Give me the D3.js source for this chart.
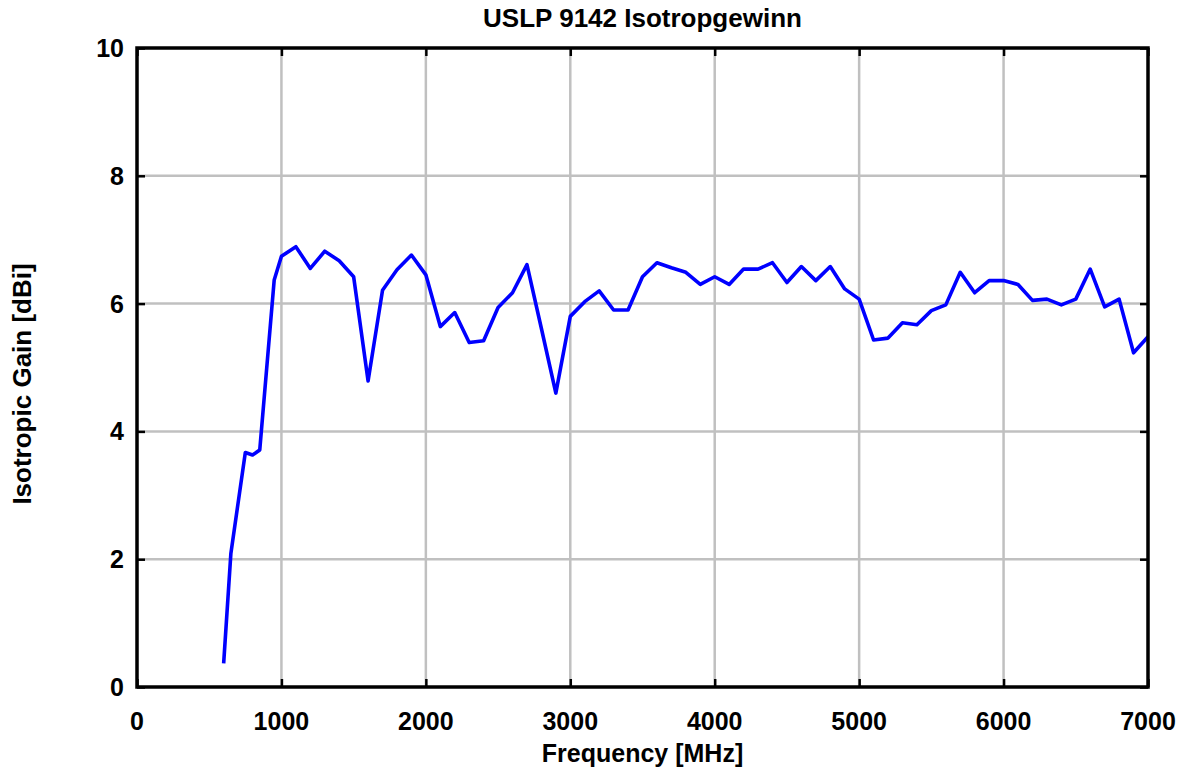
<!DOCTYPE html>
<html>
<head>
<meta charset="utf-8">
<script src="https://cdn.jsdelivr.net/npm/d3@7"></script>
<style>
  body { margin: 0; background: #fff; }
  text { font-family: "Liberation Sans", Arial, sans-serif; font-weight: bold; fill: #000; }
</style>
</head>
<body>
<div id="chart"></div>
<script>
var freqs = [600, 650, 750, 800, 850, 950, 1000, 1100, 1200, 1300, 1400, 1500, 1600, 1700, 1800, 1900,
  2000, 2100, 2200, 2300, 2400, 2500, 2600, 2700, 2800, 2900, 3000, 3100, 3200, 3300, 3400, 3500,
  3600, 3700, 3800, 3900, 4000, 4100, 4200, 4300, 4400, 4500, 4600, 4700, 4800, 4900, 5000, 5100,
  5200, 5300, 5400, 5500, 5600, 5700, 5800, 5900, 6000, 6100, 6200, 6300, 6400, 6500, 6600, 6700,
  6800, 6900, 7000];
var gain = [0.37, 2.09, 3.67, 3.63, 3.71, 6.37, 6.74, 6.89, 6.55, 6.82, 6.67, 6.42, 4.79, 6.21, 6.53, 6.76,
  6.45, 5.64, 5.86, 5.39, 5.42, 5.94, 6.17, 6.61, 5.61, 4.60, 5.80, 6.03, 6.20, 5.90, 5.90, 6.42,
  6.64, 6.56, 6.49, 6.30, 6.42, 6.30, 6.54, 6.54, 6.64, 6.33, 6.58, 6.36, 6.58, 6.23, 6.07, 5.43,
  5.46, 5.70, 5.67, 5.89, 5.98, 6.49, 6.17, 6.36, 6.36, 6.30, 6.05, 6.07, 5.98, 6.07, 6.54, 5.95,
  6.07, 5.23, 5.48];
var xTicks = [0, 1000, 2000, 3000, 4000, 5000, 6000, 7000];
var yTicks = [0, 2, 4, 6, 8, 10];

var data = freqs.map(function (f, i) { return { f: f, g: gain[i] }; });

var margin = { top: 48, right: 39, bottom: 84, left: 137 },
    W = 1187, H = 771,
    width = W - margin.left - margin.right,
    height = H - margin.top - margin.bottom;

var svg = d3.select("#chart").append("svg")
  .attr("width", W).attr("height", H);

var g = svg.append("g")
  .attr("transform", "translate(" + margin.left + "," + margin.top + ")");

var x = d3.scaleLinear().domain([0, 7000]).range([0, width]);
var y = d3.scaleLinear().domain([0, 10]).range([height, 0]);

// grid
g.selectAll(".gx").data(xTicks.slice(1, -1)).enter().append("line")
  .attr("x1", function (d) { return x(d); }).attr("x2", function (d) { return x(d); })
  .attr("y1", 0).attr("y2", height)
  .attr("stroke", "#c0c0c0").attr("stroke-width", 2.5);
g.selectAll(".gy").data(yTicks.slice(1, -1)).enter().append("line")
  .attr("y1", function (d) { return y(d); }).attr("y2", function (d) { return y(d); })
  .attr("x1", 0).attr("x2", width)
  .attr("stroke", "#c0c0c0").attr("stroke-width", 2.5);

// inward ticks on all four sides
function ticks(axis, tr) {
  var a = g.append("g").attr("transform", tr).call(axis.tickSize(-8).tickFormat(""));
  a.select(".domain").remove();
  a.selectAll("line").attr("stroke", "#000").attr("stroke-width", 2.5);
}
ticks(d3.axisBottom(x).tickValues(xTicks), "translate(0," + height + ")");
ticks(d3.axisTop(x).tickValues(xTicks), "translate(0,0)");
ticks(d3.axisLeft(y).tickValues(yTicks), "translate(0,0)");
ticks(d3.axisRight(y).tickValues(yTicks), "translate(" + width + ",0)");

// tick labels
g.selectAll(".lx").data(xTicks).enter().append("text")
  .attr("x", function (d) { return x(d); }).attr("y", height + 43)
  .attr("text-anchor", "middle").attr("font-size", 25)
  .text(function (d) { return d; });
g.selectAll(".ly").data(yTicks).enter().append("text")
  .attr("x", -13).attr("y", function (d) { return y(d); }).attr("dy", "0.36em")
  .attr("text-anchor", "end").attr("font-size", 25)
  .text(function (d) { return d; });

// curve
g.append("path").datum(data)
  .attr("fill", "none").attr("stroke", "#0000ff").attr("stroke-width", 3.6)
  .attr("stroke-linejoin", "round")
  .attr("d", d3.line().x(function (d) { return x(d.f); }).y(function (d) { return y(d.g); }));

// frame
g.append("rect").attr("width", width).attr("height", height)
  .attr("fill", "none").attr("stroke", "#000").attr("stroke-width", 3.5);

// titles
svg.append("text").attr("x", margin.left + width / 2).attr("y", 27)
  .attr("text-anchor", "middle").attr("font-size", 26)
  .text("USLP 9142 Isotropgewinn");
svg.append("text").attr("x", margin.left + width / 2).attr("y", 762)
  .attr("text-anchor", "middle").attr("font-size", 25)
  .text("Frequency [MHz]");
svg.append("text")
  .attr("transform", "translate(31,384) rotate(-90)")
  .attr("text-anchor", "middle").attr("font-size", 26)
  .text("Isotropic Gain [dBi]");
</script>
</body>
</html>
